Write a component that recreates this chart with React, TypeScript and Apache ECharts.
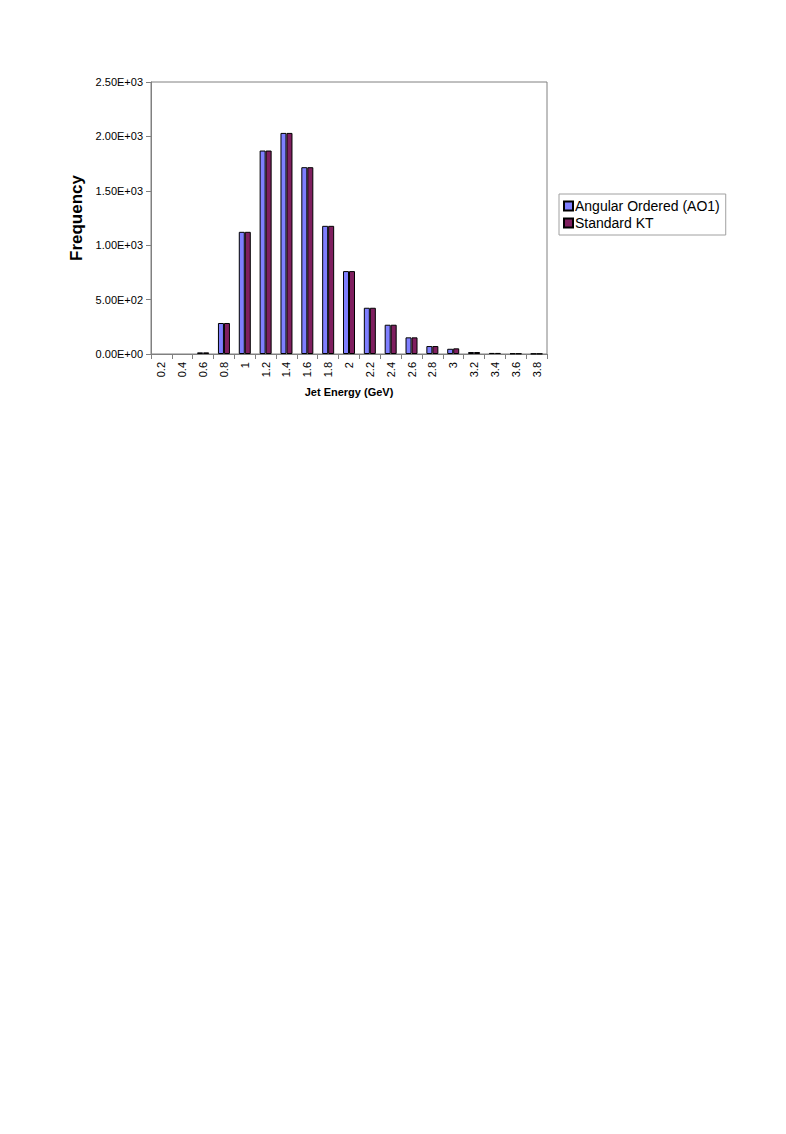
import React, { useEffect, useRef } from "react";
import * as echarts from "echarts";

const categories = ["0.2", "0.4", "0.6", "0.8", "1", "1.2", "1.4", "1.6", "1.8", "2", "2.2", "2.4", "2.6", "2.8", "3", "3.2", "3.4", "3.6", "3.8"];
const angularOrdered = [0, 0, 15, 285, 1123, 1870, 2032, 1717, 1178, 762, 425, 269, 153, 73, 48, 18, 10, 5, 3];
const standardKT = [0, 0, 15, 285, 1123, 1870, 2032, 1717, 1178, 762, 425, 269, 153, 73, 52, 18, 10, 5, 3];
const seriesNames = ["Angular Ordered (AO1)", "Standard KT"];
const yTicks = [0, 500, 1000, 1500, 2000, 2500];

const FONT = "'Liberation Sans', Arial, sans-serif";

const toItems = (arr: number[]) =>
  arr.map((v) => (v === 0 ? { value: v, itemStyle: { borderWidth: 0 } } : v));

export default function App() {
  const ref = useRef<HTMLDivElement>(null);
  useEffect(() => {
    if (!ref.current) return;
    const chart = echarts.init(ref.current, undefined, { renderer: "svg" });
    chart.setOption({
      animation: false,
      textStyle: { fontFamily: FONT },
      grid: {
        left: 151,
        top: 82,
        width: 396,
        height: 272,
        show: true,
        borderColor: "#808080",
        borderWidth: 1,
        backgroundColor: "transparent",
      },
      legend: {
        orient: "vertical",
        left: 559,
        top: 194,
        padding: [5, 6, 5, 4],
        itemGap: 3,
        itemWidth: 9,
        itemHeight: 9,
        icon: "rect",
        borderColor: "#a0a0a0",
        borderWidth: 1,
        textStyle: { fontFamily: FONT, fontSize: 14, color: "#000", padding: [0, 0, 0, -3] },
        data: seriesNames,
      },
      xAxis: {
        type: "category",
        data: categories,
        name: "Jet Energy (GeV)",
        nameLocation: "middle",
        nameGap: 32,
        nameTextStyle: { fontFamily: FONT, fontSize: 11, fontWeight: "bold", color: "#000" },
        axisLine: { lineStyle: { color: "#808080", width: 1 } },
        axisTick: { show: true, alignWithLabel: false, length: 5, lineStyle: { color: "#808080" } },
        axisLabel: { rotate: 90, fontSize: 11, color: "#000", fontFamily: FONT, margin: 8, interval: 0 },
        splitLine: { show: false },
      },
      yAxis: {
        type: "value",
        min: 0,
        max: 2500,
        interval: 500,
        name: "Frequency",
        nameLocation: "middle",
        nameGap: 66,
        nameTextStyle: { fontFamily: FONT, fontSize: 17, fontWeight: "bold", color: "#000" },
        axisLine: { show: true, lineStyle: { color: "#808080", width: 1 } },
        axisTick: { show: true, length: 5, inside: false, lineStyle: { color: "#808080" } },
        axisLabel: {
          fontSize: 11,
          color: "#000",
          fontFamily: FONT,
          margin: 8,
          formatter: (v: number) => {
            if (!yTicks.includes(v)) return "";
            if (v === 0) return "0.00E+00";
            const e = Math.floor(Math.log10(v));
            const m = v / Math.pow(10, e);
            return m.toFixed(2) + "E+" + String(e).padStart(2, "0");
          },
        },
        splitLine: { show: false },
      },
      series: [
        {
          name: seriesNames[0],
          type: "bar",
          data: toItems(angularOrdered),
          barWidth: 6,
          barGap: "0%",
          itemStyle: { color: "#7F7FFF", borderColor: "#000", borderWidth: 1 },
        },
        {
          name: seriesNames[1],
          type: "bar",
          data: toItems(standardKT),
          barWidth: 6,
          barGap: "0%",
          itemStyle: { color: "#7F1F5F", borderColor: "#000", borderWidth: 1 },
        },
      ],
    });
    return () => chart.dispose();
  }, []);
  return (
    <div
      ref={ref}
      style={{ position: "absolute", left: 0, top: 0, width: 786, height: 1134 }}
    />
  );
}
